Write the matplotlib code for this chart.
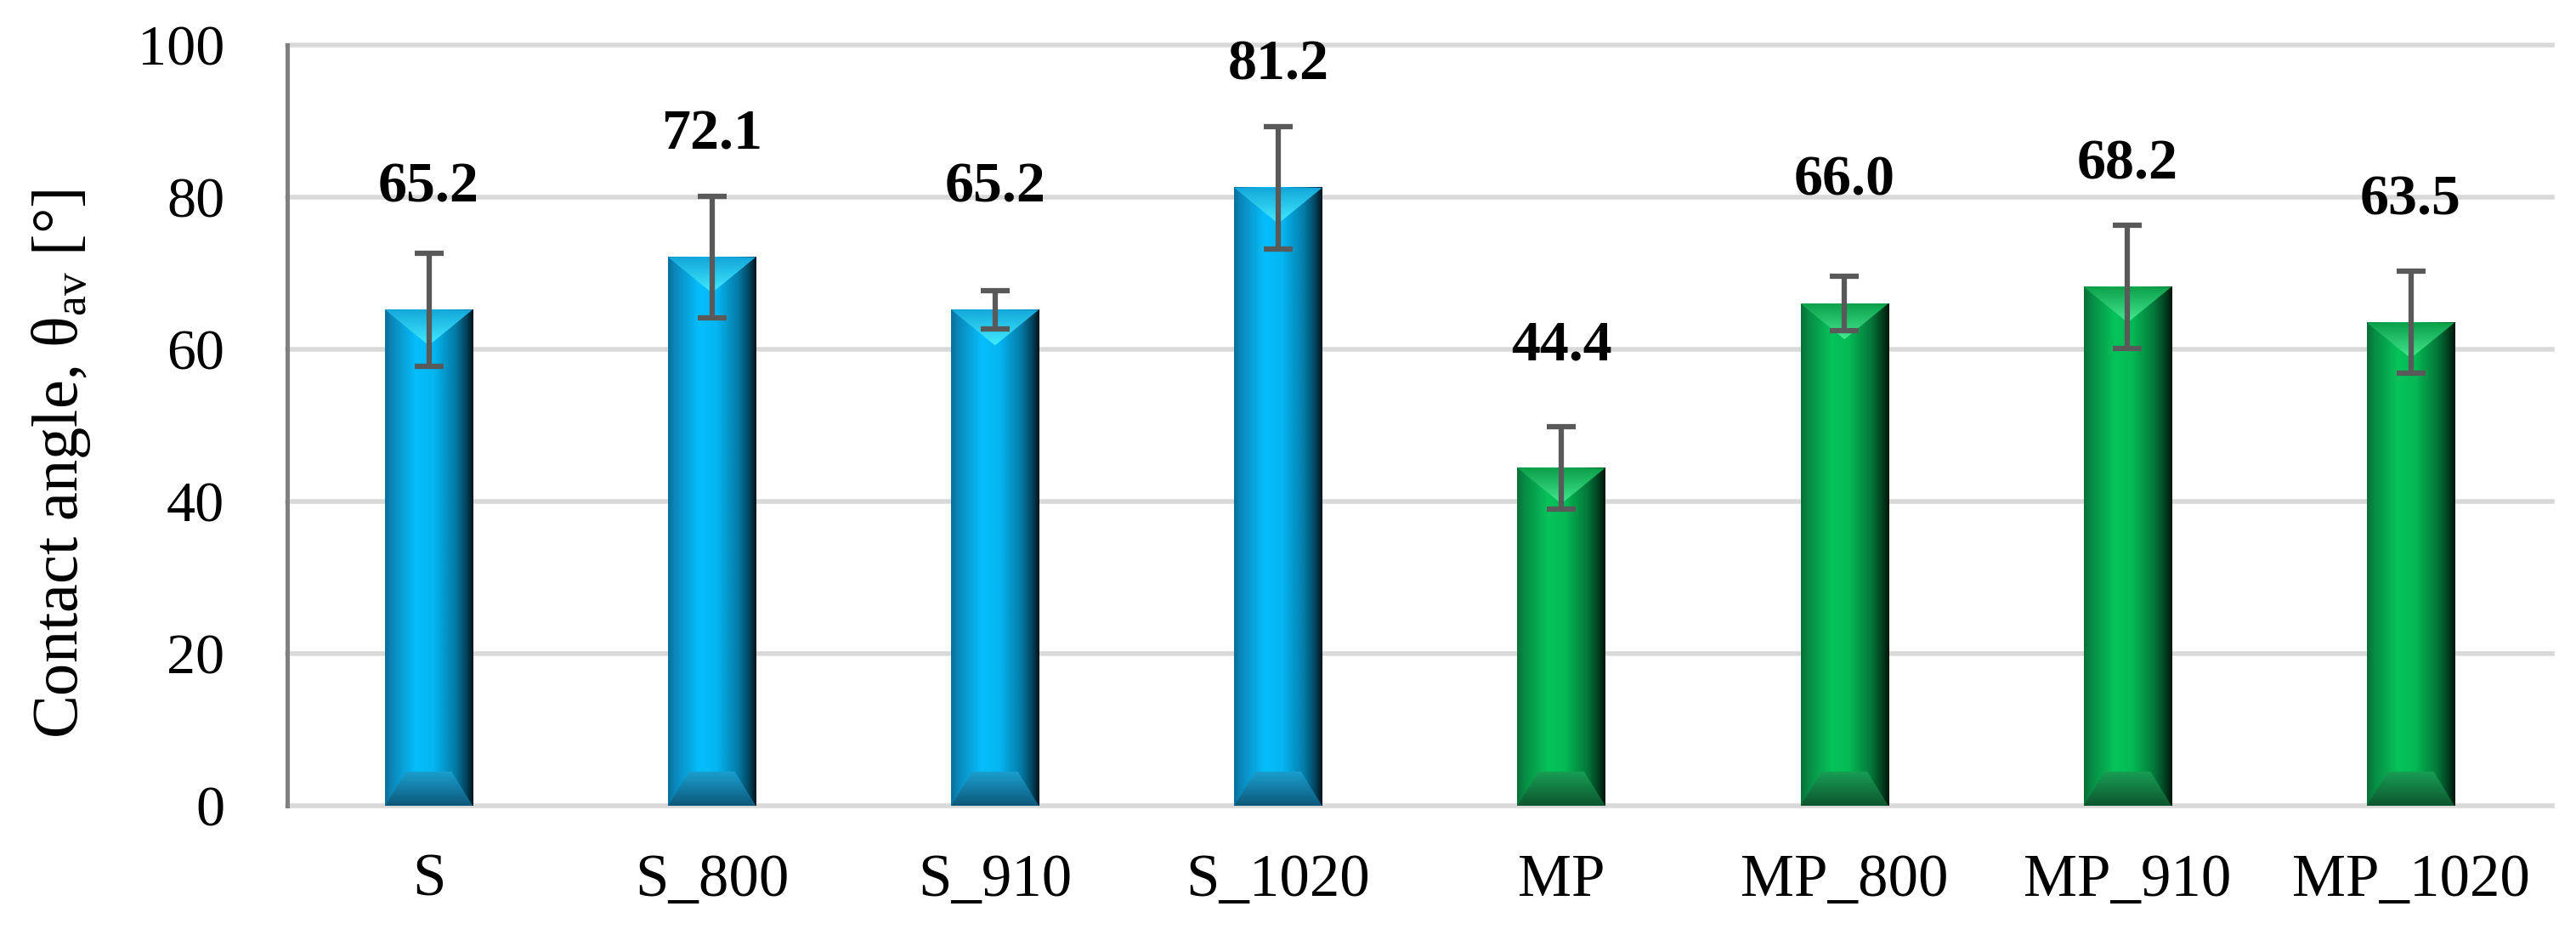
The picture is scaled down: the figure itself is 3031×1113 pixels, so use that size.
import numpy as np
import matplotlib.pyplot as plt
from matplotlib.colors import LinearSegmentedColormap
from matplotlib.patches import Polygon

plt.rcParams['font.family'] = ['Liberation Serif', 'DejaVu Serif']
plt.rcParams['mathtext.fontset'] = 'custom'
plt.rcParams['mathtext.rm'] = 'Liberation Serif'
plt.rcParams['mathtext.it'] = 'Liberation Serif:italic'

# data
samples = ['S', 'S_800', 'S_910', 'S_1020', 'MP', 'MP_800', 'MP_910', 'MP_1020']
angle = [65.2, 72.1, 65.2, 81.2, 44.4, 66.0, 68.2, 63.5]
angle_err = [7.4, 8.0, 2.5, 8.0, 5.4, 3.6, 8.1, 6.7]
group = ['S', 'S', 'S', 'S', 'MP', 'MP', 'MP', 'MP']

# beveled bar look: side gradient, top triangle, bottom trapezoid
side_colors = {
    'S': [(0.0, '#0b6f99'), (0.08, '#0a88ba'), (0.35, '#06befc'), (0.55, '#04b6f2'),
          (0.8, '#047aa6'), (0.92, '#03445e'), (1.0, '#01141c')],
    'MP': [(0.0, '#0a7038'), (0.08, '#078a44'), (0.35, '#06c35a'), (0.55, '#05b954'),
           (0.8, '#04763a'), (0.92, '#024020'), (1.0, '#00150a')],
}
top_colors = {'S': ['#12a6da', '#42ecff'], 'MP': ['#0a9e48', '#45ea92']}
bottom_colors = {'S': ['#1aa0d0', '#0e587a'], 'MP': ['#18a055', '#0d552d']}

fig = plt.figure(figsize=(30.31, 11.13), dpi=100)
ax = fig.add_axes([0.1115, 0.1482, 0.8793, 0.8045])

x = np.arange(len(samples))
bars = ax.bar(x, angle, width=0.31, color='none', edgecolor='none', zorder=2)

grad = np.linspace(0, 1, 256)
bev_top = 4.7
bev_bot = 4.5
for b, g in zip(bars, group):
    x0, w, h = b.get_x(), b.get_width(), b.get_height()
    xc = x0 + w / 2
    # side shading
    cm_side = LinearSegmentedColormap.from_list('side', side_colors[g])
    ax.imshow(grad[None, :], cmap=cm_side, extent=(x0, x0 + w, 0, h),
              aspect='auto', interpolation='bilinear', zorder=2)

    # top bevel (V shape)
    tri = Polygon([(x0, h), (x0 + w, h), (xc, h - bev_top)], closed=True,
                  facecolor='none', edgecolor='none', zorder=3)
    ax.add_patch(tri)
    cm_top = LinearSegmentedColormap.from_list('top', top_colors[g])
    im = ax.imshow(grad[:, None], cmap=cm_top, origin='lower',
                   extent=(x0, x0 + w, h, h - bev_top),
                   aspect='auto', interpolation='bilinear', zorder=3)
    im.set_clip_path(tri)

    # bottom bevel
    trap = Polygon([(x0, 0), (x0 + w, 0), (xc + w * 0.26, bev_bot), (xc - w * 0.26, bev_bot)],
                   closed=True, facecolor='none', edgecolor='none', zorder=3)
    ax.add_patch(trap)
    cm_bot = LinearSegmentedColormap.from_list('bot', bottom_colors[g])
    im2 = ax.imshow(grad[:, None], cmap=cm_bot, origin='lower',
                    extent=(x0, x0 + w, bev_bot, 0),
                    aspect='auto', interpolation='bilinear', zorder=3)
    im2.set_clip_path(trap)

ax.errorbar(x, angle, yerr=angle_err, fmt='none', ecolor='#595959',
            elinewidth=4.5, capsize=12.5, capthick=4.5, zorder=5)

for xi, v in zip(x, angle):
    ax.text(xi, v + 14.2, f'{v:.1f}', ha='center', va='baseline',
            fontsize=49, fontweight='bold', color='black', zorder=6)

ax.set_xlim(-0.5, len(samples) - 0.5)
ax.set_ylim(0, 100)
ax.set_yticks(range(0, 101, 20))
for t in range(0, 101, 20):
    ax.axhline(t, color='#d9d9d9', lw=4, zorder=0, clip_on=False)

ax.set_xticks(x)
ax.set_xticklabels(samples, fontsize=51)
ax.tick_params(axis='y', length=0, pad=53, labelsize=49)
ax.tick_params(axis='x', length=0, pad=40)

for s in ['top', 'right', 'bottom']:
    ax.spines[s].set_visible(False)
ax.spines['left'].set_color('#808080')
ax.spines['left'].set_linewidth(3.6)
ax.spines['left'].set_zorder(1)

fig.text(72 / 3031, 1 - 546 / 1113, 'Contact angle, θ$_{\\rm av}$ [°]',
         rotation=90, ha='center', va='center', fontsize=55)

fig.savefig('out.png', dpi=100)
